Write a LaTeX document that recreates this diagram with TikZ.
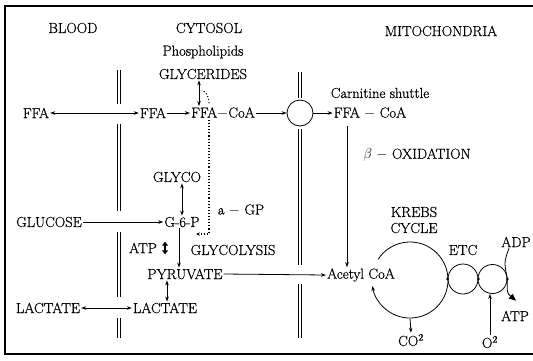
\documentclass[tikz,border=0pt]{standalone}
\usepackage{fontspec}
\setmainfont{Latin Modern Roman}[FakeBold=0.8]
\usetikzlibrary{arrows.meta}
\begin{document}
\begin{tikzpicture}[
  x=1pt, y=-1pt,
  font=\fontsize{14.5}{16}\selectfont,
  lbl/.style={inner sep=1pt, align=center},
  ring/.style={draw, circle, inner sep=0pt, line width=0.8pt},
  membrane/.style={double, double distance=2.4pt, line width=0.8pt},
  arrow/.style={-{Stealth[length=5pt, width=3.6pt]}, line width=0.8pt},
  both/.style={{Stealth[length=5pt, width=3.6pt]}-{Stealth[length=5pt, width=3.6pt]}, line width=0.8pt},
  fat/.style={{Triangle[length=4pt, width=6pt]}-{Triangle[length=4pt, width=6pt]}, line width=1.6pt},
  dots/.style={dotted, line width=1.1pt},
  frame/.style={line width=1.2pt}
]
\useasboundingbox (0,0) rectangle (533,360);
\draw[frame] (533,6) -- (5,6) -- (5,354) -- (533,354);

% headings
\node[lbl] (blood) at (73, 28) {BLOOD};
\node[lbl] (cytosol) at (209, 28) {CYTOSOL};
\node[lbl] (mito) at (441, 31) {MITOCHONDRIA};

% membranes
\draw[membrane] (119,70) -- (119,104);
\draw[membrane] (119,124) -- (119,211);
\draw[membrane] (119,232) -- (119,297);
\draw[membrane] (119,318) -- (119,338);
\draw[membrane] (300,72) -- (300,98);
\draw[membrane] (300,129) -- (300,265);
\draw[membrane] (300,284) -- (300,338);

% blood
\node[lbl] (ffab) at (36, 113) {FFA};
\node[lbl] (gluc) at (49, 222) {GLUCOSE};
\node[lbl] (lacb) at (48, 308) {LACTATE};

% cytosol
\node[lbl] (phos) at (203, 52) {Phospholipids};
\node[lbl] (glyc) at (203, 74) {GLYCERIDES};
\node[lbl] (ffac) at (153, 113) {FFA};
\node[lbl] (ffacoac) at (223, 113) {FFA$-$CoA};
\node[lbl] (glyco) at (177, 177) {GLYCO};
\node[lbl] (g6p) at (182, 222) {G-6-P};
\node[lbl] (agp) at (241, 210) {a $-$ GP};
\node[lbl] (atp) at (143, 248) {ATP};
\node[lbl] (glycol) at (233, 250) {GLYCOLYSIS};
\node[lbl] (pyr) at (185, 274) {PYRUVATE};
\node[lbl] (lacc) at (165, 308) {LACTATE};
\coordinate (gpbend) at (209, 234);
\coordinate (gptip) at (196, 234);

% mitochondria
\node[ring, minimum size=26pt] (carn) at (300, 113) {};
\node[lbl] (shuttle) at (380, 93) {Carnitine shuttle};
\node[lbl] (ffacoam) at (370, 113) {FFA $-$ CoA};
\node[lbl] (beta) at (417, 155) {$\beta$ $-$ OXIDATION};
\node[lbl] (acetyl) at (361, 275) {Acetyl CoA};
\node[lbl] (krebs) at (414, 220) {KREBS\\CYCLE};
\coordinate (kc) at (410, 280);
\coordinate (kbot) at (410, 318);
\node[lbl] (co2) at (411, 340) {CO\textsuperscript{2}};
\node[ring, minimum size=30pt] (etc1) at (463, 279) {};
\node[ring, minimum size=29pt] (etc2) at (492.5, 279) {};
\node[lbl] (etc) at (463, 250) {ETC};
\node[lbl] (adp) at (516, 242) {ADP};
\node[lbl] (atpm) at (515, 316) {ATP};
\node[lbl] (o2) at (490, 342) {O\textsuperscript{2}};

\draw[both] (ffab.east) -- (ffac.west);
\draw[arrow] (ffac.east) -- (ffacoac.west);
\draw[arrow] (ffacoac.east) -- (carn.west);
\draw[arrow] (carn.east) -- (ffacoam.west);
\draw[both] ([xshift=-4pt]glyc.south) -- ([xshift=-24pt]ffacoac.north);
\draw[dots, shorten <=3pt] (ffacoac.north -| gpbend) .. controls (209,96) and (206,92) .. (202,90);
\draw[dots, -{Stealth[length=4pt, width=3.4pt]}] (ffacoac.south -| gpbend) -- (gpbend) -- (gptip);
\draw[both] ([xshift=5pt]glyco.south) -- (g6p.north);
\draw[arrow] (gluc.east) -- (g6p.west);
\draw[arrow] ([xshift=-3pt]g6p.south) -- ([xshift=-6pt]pyr.north);
\draw[fat] ([xshift=7pt]atp.north east) -- ([xshift=7pt]atp.south east);
\draw[both] ([xshift=-18pt]pyr.south) -- ([xshift=2pt]lacc.north);
\draw[both] (lacb.east) -- (lacc.west);
\draw[arrow] (pyr.east) -- (acetyl.west);
\draw[arrow, shorten <=6pt] ([xshift=-23pt]ffacoam.south) -- ([xshift=-14pt]acetyl.north);

% krebs cycle and etc
\draw[arrow] (kc) ++(-147:38) arc[start angle=-147, end angle=171, radius=38];
\draw[arrow, shorten <=1pt] (kbot) -- (co2.north);
\fill (etc1.west) circle[radius=1.4];
\fill (etc1.east) circle[radius=1.4];
\fill (etc2.east) circle[radius=1.4];
\draw[line width=0.8pt] ([xshift=-7pt]adp.south) .. controls (504,262) .. (etc2.east);
\draw[line width=0.8pt, -{Triangle[length=7pt, width=6pt]}] (etc2.east) .. controls (507,293) .. ([xshift=1pt, yshift=9pt]atpm.north);
\draw[arrow] (o2.north) -- (o2.north |- etc2.south);
\end{tikzpicture}
\end{document}
